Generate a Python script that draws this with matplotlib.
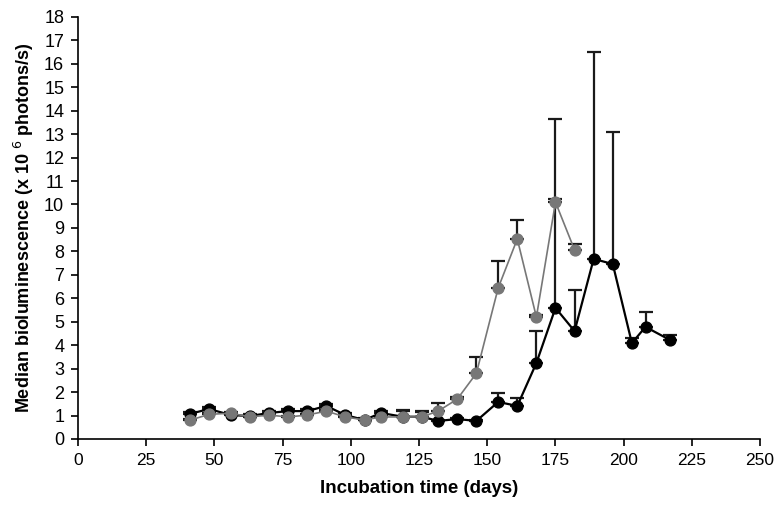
import matplotlib
matplotlib.use("Agg")
import matplotlib.pyplot as plt
from matplotlib import font_manager

days_black = [41, 48, 56, 63, 70, 77, 84, 91, 98, 105, 111, 119, 126, 132, 139, 146, 154, 161, 168, 175, 182, 189, 196, 203, 208, 217]
med_black = [1.07, 1.28, 1.02, 0.98, 1.11, 1.19, 1.19, 1.41, 1.02, 0.81, 1.11, 0.95, 0.95, 0.77, 0.85, 0.77, 1.58, 1.41, 3.24, 5.59, 4.60, 7.68, 7.46, 4.09, 4.78, 4.22]
err_black = [0.10, 0.10, 0.10, 0.10, 0.10, 0.10, 0.10, 0.10, 0.08, 0.08, 0.10, 0.25, 0.20, 0.05, 0.05, 0.05, 0.38, 0.34, 1.36, 8.06, 1.75, 8.82, 5.64, 0.21, 0.64, 0.23]

days_gray = [41, 48, 56, 63, 70, 77, 84, 91, 98, 105, 111, 119, 126, 132, 139, 146, 154, 161, 168, 175, 182]
med_gray = [0.80, 1.05, 1.10, 0.94, 1.02, 0.94, 1.02, 1.19, 0.94, 0.81, 0.94, 0.94, 0.94, 1.19, 1.70, 2.80, 6.44, 8.53, 5.20, 10.10, 8.06]
err_gray = [0.05, 0.05, 0.05, 0.05, 0.05, 0.05, 0.05, 0.05, 0.05, 0.05, 0.05, 0.30, 0.26, 0.34, 0.10, 0.70, 1.16, 0.81, 0.10, 0.15, 0.24]

x_ticks = list(range(0, 251, 25))
y_ticks = list(range(0, 19))

avail = {f.name for f in font_manager.fontManager.ttflist}
narrow = "Liberation Sans Narrow" if "Liberation Sans Narrow" in avail else "Liberation Sans"

plt.rcParams['font.family'] = ['Liberation Sans', 'DejaVu Sans']

fig = plt.figure(figsize=(7.78, 5.12), dpi=100)
ax = fig.add_axes([0.1003, 0.1426, 0.8767, 0.8244])

ax.errorbar(days_gray, med_gray, yerr=[[0]*len(err_gray), err_gray], fmt='none',
            ecolor='#1a1a1a', elinewidth=1.6, capsize=5, capthick=1.6, zorder=2)
ax.errorbar(days_black, med_black, yerr=[[0]*len(err_black), err_black], fmt='none',
            ecolor='#1a1a1a', elinewidth=1.6, capsize=5, capthick=1.6, zorder=2)
ax.plot(days_gray, med_gray, '-o', color='#777777', lw=1.2, ms=7.8, mec='#777777', zorder=4)
ax.plot(days_black, med_black, '-o', color='black', lw=1.6, ms=7.8, zorder=3)

ax.set_xlim(0, 250)
ax.set_ylim(0, 18)
ax.set_xticks(x_ticks)
ax.set_yticks(y_ticks)
ax.set_xticklabels([str(t) for t in x_ticks], fontsize=12.5, family=[narrow, 'DejaVu Sans'])
ax.set_yticklabels([str(t) for t in y_ticks], fontsize=13)
for s in ['top', 'right']:
    ax.spines[s].set_visible(False)
for s in ['left', 'bottom']:
    ax.spines[s].set_linewidth(1.2)
ax.tick_params(direction='out', length=5, width=1.2, pad=5)

ax.set_xlabel('Incubation time (days)', fontsize=13.5, fontweight='bold', family=[narrow, 'DejaVu Sans'], labelpad=9)
ax.set_ylabel('Median bioluminescence (x 10 $^{6}$ photons/s)', fontsize=13, fontweight='bold', labelpad=6)

fig.savefig('out.png', dpi=100)
